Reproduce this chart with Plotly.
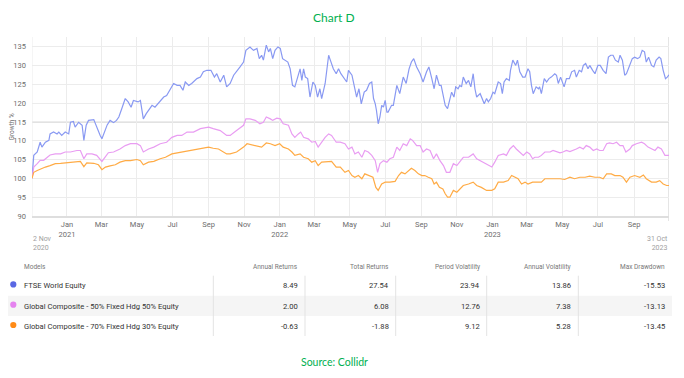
import pandas as pd
import plotly.graph_objects as go

START = "2020-11-02"
END = "2023-10-31"

# ---- series (day offset from 2 Nov 2020, growth value) ----
ftse_days = [0,3,9,14,17,23,29,31,37,43,46,51,57,63,66,71,74,80,86,89,93,97,106,111,114,117,120,124,129,134,
             140,145,149,154,160,165,170,174,182,186,189,191,196,200,206,211,219,226,231,237,243,249,254,259,263,269,274,283,289,294,
             300,307,313,317,323,329,334,
             340,346,357,363,367,374,380,386,390,394,397,402,406,409,413,417,422,426,430,434,
             439,443,447,451,457,460,463,466,469,473,477,482,486,490,494,497,503,509,511,517,
             522,526,530,536,540,543,549,554,557,561,565,570,574,579,583,586,589,591,594,597,
             600,603,606,609,611,617,620,626,631,637,642,647,651,655,660,666,671,677,681,686,
             690,694,699,702,706,709,713,
             717,720,724,727,731,734,737,740,745,749,753,757,760,763,769,773,776,780,783,787,
             791,794,800,804,807,810,814,819,821,825,830,833,837,842,846,851,854,857,860,865,
             869,871,874,879,883,887,891,897,900,903,907,913,917,922,926,931,934,939,943,946,
             950,954,957,962,966,971,975,980,985,989,993,997,1001,1006,1009,1013,1017,1020,1026,1030,
             1034,1039,1043,1047,1051,1054,1058,1063,1067,1071,1076,1079,1083,1087,1090,1093]
ftse_vals = [100.0,106.1,107.0,109.6,108.3,109.6,110.1,111.8,112.3,111.8,112.3,111.4,112.3,111.8,114.9,115.1,113.6,114.9,114.1,110.1,
             114.1,115.4,115.6,113.6,112.3,111.4,110.5,112.3,114.2,115.4,114.8,115.4,116.3,118.5,121.2,120.3,118.9,120.7,120.3,120.7,
             118.1,115.8,117.2,118.1,119.4,118.9,120.3,121.6,122.0,123.8,125.2,124.7,124.7,123.4,125.6,124.7,125.2,126.5,126.9,128.3,
             128.7,128.7,126.9,127.8,125.6,127.4,124.3,
             125.2,127.4,129.6,130.9,134.0,134.9,134.0,134.5,131.8,132.7,131.4,135.4,133.6,134.5,131.8,134.0,134.9,134.5,131.8,131.4,
             130.9,129.1,124.7,124.3,127.4,129.1,126.0,129.1,126.9,126.5,121.6,125.6,124.7,121.6,123.8,121.2,125.2,132.7,131.8,129.1,
             127.8,129.1,127.8,126.5,125.6,128.7,127.4,123.8,121.6,123.8,119.8,122.9,123.4,125.2,125.6,121.2,119.8,118.1,114.5,116.3,
             119.4,118.9,120.7,117.6,117.6,119.4,119.4,124.7,122.5,126.9,125.2,129.1,130.9,131.8,129.6,127.8,125.6,128.3,129.6,126.5,
             123.8,127.4,124.7,124.7,121.2,119.4,118.5,
             120.7,122.9,121.6,124.3,123.8,124.7,124.3,126.9,125.2,126.0,124.3,127.8,123.8,121.6,122.5,121.2,119.8,121.2,120.3,121.2,
             122.9,122.5,125.6,125.2,122.5,125.6,126.5,126.0,128.7,131.4,130.0,131.4,128.3,126.9,126.9,129.1,128.3,124.7,122.5,124.3,
             123.8,124.3,122.5,126.5,125.6,126.5,126.9,127.8,127.4,125.2,126.9,124.3,126.5,126.5,128.3,128.7,126.9,128.7,128.3,130.0,
             130.5,129.1,130.0,128.7,127.8,130.0,130.0,128.7,127.8,132.2,132.7,132.7,131.4,130.9,132.7,131.4,127.4,127.8,130.0,131.8,
             132.2,131.8,132.2,134.0,133.6,130.9,132.2,130.0,129.6,131.4,132.2,131.8,128.7,126.5,126.9,127.5]

mix50_days = [0,3,9,14,20,26,31,40,49,57,66,77,83,89,94,103,111,120,126,131,
              140,151,160,169,180,186,191,200,209,220,231,240,249,257,266,277,289,303,311,323,334,
              340,351,363,367,374,383,391,397,402,409,413,420,426,431,440,446,451,457,461,466,
              474,480,486,491,497,503,509,514,522,529,537,543,549,554,560,566,571,577,583,589,
              593,597,603,609,614,620,626,631,637,643,649,653,660,666,671,677,683,689,694,700,706,711,
              717,723,729,734,740,749,757,763,769,777,783,789,794,800,809,814,820,826,831,837,
              843,849,854,859,863,869,874,880,889,894,900,906,911,917,923,929,934,940,946,951,
              957,963,969,974,980,986,991,997,1003,1009,1014,1019,1026,1030,1037,1046,1051,1057,1063,1069,
              1074,1080,1086,1093]
mix50_vals = [100.0,103.0,103.9,104.8,104.8,105.6,106.2,106.5,106.5,107.0,107.0,107.4,107.4,105.2,106.5,106.5,106.1,104.5,105.9,106.8,
              107.0,107.8,108.7,109.2,109.2,108.7,107.0,107.8,108.3,109.2,109.6,110.9,111.4,111.4,112.3,112.3,113.2,113.6,113.2,112.7,111.4,
              111.4,112.7,114.1,115.8,115.8,115.4,114.5,114.9,116.3,115.8,115.4,116.0,115.8,114.5,114.1,111.8,110.9,111.8,112.3,110.9,
              110.5,109.6,109.8,108.3,109.6,110.9,111.8,111.4,109.6,109.6,109.2,107.8,108.3,106.5,107.0,105.6,107.4,107.0,106.1,104.7,
              101.6,103.9,104.7,104.3,105.2,105.6,108.3,107.4,109.2,108.7,110.5,110.1,108.7,108.7,107.0,107.8,107.4,105.2,106.5,104.7,103.4,101.6,
              101.6,103.9,103.4,104.3,105.6,105.6,106.5,105.2,104.7,103.9,103.4,103.0,104.3,106.1,106.5,106.1,107.8,108.7,107.8,107.0,
              106.1,107.0,106.5,105.2,105.6,105.6,106.1,107.0,107.0,107.4,107.0,106.8,107.0,107.4,107.1,107.4,107.8,108.3,107.8,108.7,
              108.3,107.4,107.8,107.4,107.4,109.2,109.4,109.2,109.6,108.7,108.7,107.0,107.8,108.7,109.2,109.6,109.2,108.3,107.8,107.4,
              108.3,107.8,106.1,106.1]

mix70_days = [0,3,9,14,23,31,40,49,60,71,83,89,94,106,114,120,126,134,143,151,
              160,169,180,186,191,200,209,220,229,240,251,263,274,289,303,311,320,334,
              340,351,363,369,377,386,394,402,409,417,425,431,440,446,451,460,466,474,480,486,
              491,497,506,514,522,529,537,543,549,554,560,566,571,579,585,590,594,600,606,614,
              623,629,634,640,646,651,657,663,669,674,680,686,690,694,699,705,709,713,
              717,723,729,734,740,749,757,763,771,780,789,794,800,809,817,823,829,834,840,846,
              851,859,866,874,880,889,897,906,914,923,931,940,949,957,966,974,980,986,994,1000,
              1009,1014,1020,1026,1034,1043,1049,1054,1063,1071,1077,1083,1089,1093]
mix70_vals = [100.0,101.6,102.1,102.5,103.0,103.4,103.9,104.0,104.1,104.3,104.5,103.1,104.1,104.0,103.6,102.3,103.0,103.3,103.6,104.3,
              104.7,104.7,105.0,104.7,103.6,104.3,104.5,105.2,105.6,106.5,106.8,107.1,107.4,107.8,108.3,108.0,107.8,106.5,
              106.5,107.0,108.3,109.2,108.9,108.7,108.3,109.4,109.2,108.7,109.2,108.3,107.8,107.0,106.1,106.5,105.6,105.2,104.3,104.7,
              103.4,104.3,104.3,104.5,103.0,103.0,101.6,102.1,100.75,100.3,100.75,99.9,101.2,100.75,100.3,97.6,96.8,98.5,99.0,99.0,
              99.2,100.75,101.6,101.2,102.1,102.7,102.1,101.2,100.75,100.75,100.3,99.9,98.5,99.0,97.6,97.2,95.9,95.0,
              95.0,96.8,96.3,97.2,98.1,98.5,99.0,98.1,97.6,96.8,96.8,97.2,99.0,99.0,99.4,100.75,100.3,99.9,98.5,99.0,
              98.5,99.0,99.0,99.0,99.9,100.0,99.9,99.9,99.7,100.3,99.9,100.3,100.3,100.6,100.3,100.3,99.9,101.2,101.2,100.75,
              100.75,100.3,99.0,100.3,100.75,100.3,100.9,99.9,99.0,99.0,99.4,98.5,98.1,98.1]

series_names = ["FTSE World Equity",
                "Global Composite - 50% Fixed Hdg 50% Equity",
                "Global Composite - 70% Fixed Hdg 30% Equity"]
line_colors = ["#8999f2", "#e99df2", "#ffab45"]
dot_colors = ["#5a68e3", "#e583ef", "#ff8b17"]

y_ticks = [90, 95, 100, 105, 110, 115, 120, 125, 130, 135]
x_tick_dates = ["2021-01-01", "2021-03-01", "2021-05-01", "2021-07-01", "2021-09-01", "2021-11-01",
                "2022-01-01", "2022-03-01", "2022-05-01", "2022-07-01", "2022-09-01", "2022-11-01",
                "2023-01-01", "2023-03-01", "2023-05-01", "2023-07-01", "2023-09-01"]
x_tick_labels = ["Jan<br>2021", "Mar", "May", "Jul", "Sep", "Nov",
                 "Jan<br>2022", "Mar", "May", "Jul", "Sep", "Nov",
                 "Jan<br>2023", "Mar", "May", "Jul", "Sep"]

# ---- table ----
table_headers = ["Annual Returns", "Total Returns", "Period Volatility", "Annual Volatility", "Max Drawdown"]
annual_returns = [8.49, 2.00, -0.63]
total_returns = [27.54, 6.08, -1.88]
period_volatility = [23.94, 12.76, 9.12]
annual_volatility = [13.86, 7.38, 5.28]
max_drawdown = [-15.53, -13.13, -13.45]
table_columns = [annual_returns, total_returns, period_volatility, annual_volatility, max_drawdown]

# ---- layout geometry (screen pixels; page body adds an 8px offset) ----
OFF = 8
SW, SH = 684, 378
L, R, T, B = 32, 15, 37, 162          # plot box on screen
W, H = SW - OFF, SH - OFF              # figure size
PW, PH = SW - L - R, SH - T - B


def fx(x):
    return (x - L) / PW


def fy(y):
    return (SH - B - y) / PH


def to_dates(days):
    return pd.Timestamp(START) + pd.to_timedelta(days, unit="D")


fig = go.Figure()
for days, vals, name, col in [(ftse_days, ftse_vals, series_names[0], line_colors[0]),
                              (mix50_days, mix50_vals, series_names[1], line_colors[1]),
                              (mix70_days, mix70_vals, series_names[2], line_colors[2])]:
    fig.add_trace(go.Scatter(x=to_dates(days), y=vals, mode="lines", name=name,
                             line=dict(color=col, width=1.2), hoverinfo="skip"))

shapes = []
annotations = []

# emphasised 115 line and edges
shapes.append(dict(type="line", xref="paper", yref="y", x0=0, x1=1, y0=115, y1=115,
                   line=dict(color="#e2e2e2", width=2), layer="below"))
shapes.append(dict(type="line", xref="x", yref="paper", x0=START, x1=START, y0=0, y1=1,
                   line=dict(color="#ececec", width=1), layer="below"))
shapes.append(dict(type="line", xref="x", yref="paper", x0=END, x1=END, y0=fy(221), y1=1,
                   line=dict(color="#dcdcdc", width=1.5), layer="below"))

TICK_FONT = dict(family="Roboto", size=7.5, color="#6e6e6e")

# start / end date labels
annotations.append(dict(text="2 Nov<br>2020", xref="paper", yref="paper", x=fx(31), y=fy(233),
                        xanchor="left", yanchor="top", showarrow=False, align="left",
                        font=dict(family="Roboto", size=7, color="#a0a0a0")))
annotations.append(dict(text="31 Oct<br>2023", xref="paper", yref="paper", x=fx(670), y=fy(233),
                        xanchor="right", yanchor="top", showarrow=False, align="right",
                        font=dict(family="Roboto", size=7, color="#a0a0a0")))

# y axis title
annotations.append(dict(text="Growth %", xref="paper", yref="paper", x=fx(11.5), y=fy(127),
                        xanchor="center", yanchor="middle", textangle=-90, showarrow=False,
                        font=dict(family="Roboto", size=6.5, color="#6e6e6e")))

# title and source
annotations.append(dict(text="Chart D", xref="paper", yref="paper", x=fx(334), y=fy(18),
                        xanchor="center", yanchor="middle", showarrow=False,
                        font=dict(family="Lato", size=12, color="#00b050")))
annotations.append(dict(text="Source: Collidr", xref="paper", yref="paper", x=fx(334), y=fy(362),
                        xanchor="center", yanchor="middle", showarrow=False,
                        font=dict(family="Lato", size=10.5, color="#00b050")))

# table
header_y = 267.3
row_y = [285.7, 306.0, 326.3]
col_right = [299.5, 390.5, 482.0, 573.0, 667.0]
separators = [213.3, 305.0, 395.7, 486.7, 578.3]

shapes.append(dict(type="rect", xref="paper", yref="paper", x0=fx(5), x1=fx(672),
                   y0=fy(316), y1=fy(295.7), fillcolor="#f5f5f5", line=dict(width=0), layer="below"))
for sx in separators:
    shapes.append(dict(type="line", xref="paper", yref="paper", x0=fx(sx), x1=fx(sx),
                       y0=fy(336), y1=fy(275.7), line=dict(color="#e3e3e3", width=1)))

annotations.append(dict(text="Models", xref="paper", yref="paper", x=fx(21.5), y=fy(header_y),
                        xanchor="left", yanchor="middle", showarrow=False,
                        font=dict(family="Roboto", size=6.5, color="#777777")))
for hdr, cx in zip(table_headers, col_right):
    annotations.append(dict(text=hdr, xref="paper", yref="paper", x=fx(cx), y=fy(header_y),
                            xanchor="right", yanchor="middle", showarrow=False,
                            font=dict(family="Roboto", size=6.5, color="#777777")))

for i, name in enumerate(series_names):
    ry = row_y[i]
    shapes.append(dict(type="circle", xref="paper", yref="paper",
                       x0=fx(10.2), x1=fx(16.4), y0=fy(ry + 1.8), y1=fy(ry - 4.4),
                       fillcolor=dot_colors[i], line=dict(width=0)))
    annotations.append(dict(text=name, xref="paper", yref="paper", x=fx(21.5), y=fy(ry),
                            xanchor="left", yanchor="middle", showarrow=False,
                            font=dict(family="Roboto", size=7.6, color="#333333")))
    for col, cx in zip(table_columns, col_right):
        annotations.append(dict(text=f"{col[i]:.2f}", xref="paper", yref="paper", x=fx(cx), y=fy(ry),
                                xanchor="right", yanchor="middle", showarrow=False,
                                font=dict(family="Roboto", size=7.6, color="#333333")))

fig.update_layout(
    width=W, height=H,
    margin=dict(l=L - OFF, r=R, t=T - OFF, b=B, pad=0, autoexpand=False),
    paper_bgcolor="white", plot_bgcolor="white",
    showlegend=False,
    shapes=shapes, annotations=annotations,
    font=dict(family="Roboto"),
    xaxis=dict(type="date", range=[START, END], tickmode="array",
               tickvals=x_tick_dates, ticktext=x_tick_labels, tickangle=0,
               showgrid=True, gridcolor="#ececec", gridwidth=1,
               showline=True, linecolor="#dedede", linewidth=2,
               ticks="", tickfont=TICK_FONT, zeroline=False, fixedrange=True, automargin=False),
    yaxis=dict(range=[90, 137.55], tickvals=y_ticks, showgrid=True, gridcolor="#ececec",
               gridwidth=1, zeroline=False, showline=False, ticks="",
               tickfont=TICK_FONT, ticklabelstandoff=5, fixedrange=True, automargin=False),
)

fig.write_html("out.html")
